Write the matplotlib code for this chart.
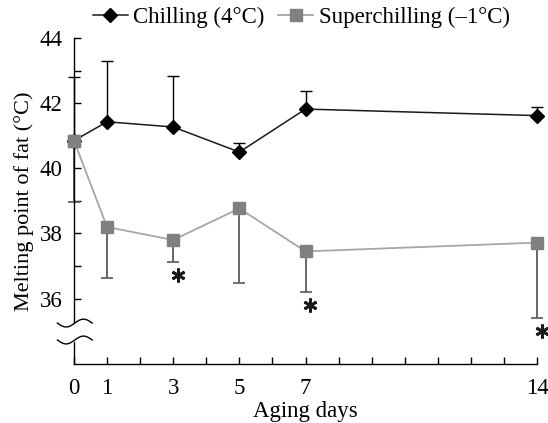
import matplotlib
matplotlib.use("Agg")
import matplotlib.pyplot as plt
from matplotlib.transforms import offset_copy
import numpy as np

days = [0, 1, 3, 5, 7, 14]
chill_mean = [40.85, 41.43, 41.27, 40.50, 41.82, 41.62]
chill_err_up = [1.95, 1.88, 1.58, 0.27, 0.54, 0.26]
super_mean = [40.85, 38.20, 37.80, 38.77, 37.45, 37.72]
super_err_down = [1.88, 1.57, 0.68, 2.30, 1.25, 2.32]
signif_days = [3, 7, 14]
xtick_labels = ["0", "1", "3", "5", "7", "14"]

plt.rcParams['font.family'] = ['Liberation Serif', 'DejaVu Serif']
fig = plt.figure(figsize=(5.48, 4.23), dpi=100)
ax = fig.add_axes([0.135, 0.14, 0.845, 0.77])

zero = [0] * len(days)
ax.errorbar(days, super_mean, yerr=[super_err_down, zero], fmt='none',
            ecolor='#5a5a5a', elinewidth=1.3, capsize=4, capthick=1.2, clip_on=False, zorder=2)
ax.errorbar(days, chill_mean, yerr=[zero, chill_err_up], fmt='none',
            ecolor='black', elinewidth=1.0, capsize=4, capthick=1.0, clip_on=False, zorder=2)
ax.plot(days, super_mean, color='#a6a6a6', lw=1.3, marker='s', ms=8,
        mfc='#808080', mec='#808080', clip_on=False, zorder=3,
        label='Superchilling (\u20131\u00b0C)')
ax.plot(days, chill_mean, color='#1a1a1a', lw=1.1, marker='D', ms=7,
        mfc='black', mec='black', clip_on=False, zorder=4,
        label='Chilling (4\u00b0C)')
ax.plot(days[:1], super_mean[:1], ls='none', marker='s', ms=8, mfc='#808080',
        mec='#808080', clip_on=False, zorder=5)

# significance asterisks below the lower error bar ends
tr = offset_copy(ax.transData, fig=fig, x=3.5, y=-9.5, units='points')
sx = [d for d in signif_days]
sy = [super_mean[days.index(d)] - super_err_down[days.index(d)] for d in signif_days]
ax.plot(sx, sy, ls='none', marker=(6, 2, 0), ms=10, mew=2.0, color='#1a1a1a',
        transform=tr, clip_on=False, zorder=6)

ax.set_xlim(0, 14)
ax.set_ylim(34, 44)
ax.set_xticks(range(0, 15))
ax.set_xticklabels([str(i) if str(i) in xtick_labels else '' for i in range(15)])
ax.set_yticks(range(36, 45))
ax.set_yticklabels([str(v) if v % 2 == 0 else '' for v in range(36, 45)])
ax.tick_params(direction='in', length=5, width=1, labelsize=16.5, pad=8)
ax.tick_params(axis='x', pad=10)
for s in ['top', 'right']:
    ax.spines[s].set_visible(False)
for s in ['left', 'bottom']:
    ax.spines[s].set_linewidth(1.0)

# axis break marks
xs = np.linspace(-0.5, 0.55, 60)
wave = 0.12 * np.sin((xs + 0.5) / 1.05 * np.pi * 2 + np.pi)
for yb in [35.25, 34.73]:
    ax.plot(xs, yb + wave, color='black', lw=1.0, clip_on=False, zorder=6)
ax.fill_between(xs, 34.73 + wave, 35.25 + wave, color='white', zorder=5, clip_on=False)

ax.set_xlabel('Aging days', fontsize=16.5, labelpad=2)
ax.set_ylabel('Melting point of fat (\u00b0C)', fontsize=16, labelpad=4)

h, l = ax.get_legend_handles_labels()
fig.legend(h[::-1], l[::-1], loc='center', bbox_to_anchor=(0.55, 0.958), ncol=2,
           frameon=False, fontsize=16.5, handlelength=1.5, handletextpad=0.25,
           columnspacing=0.6, borderaxespad=0)

fig.savefig('out.png', dpi=100)
